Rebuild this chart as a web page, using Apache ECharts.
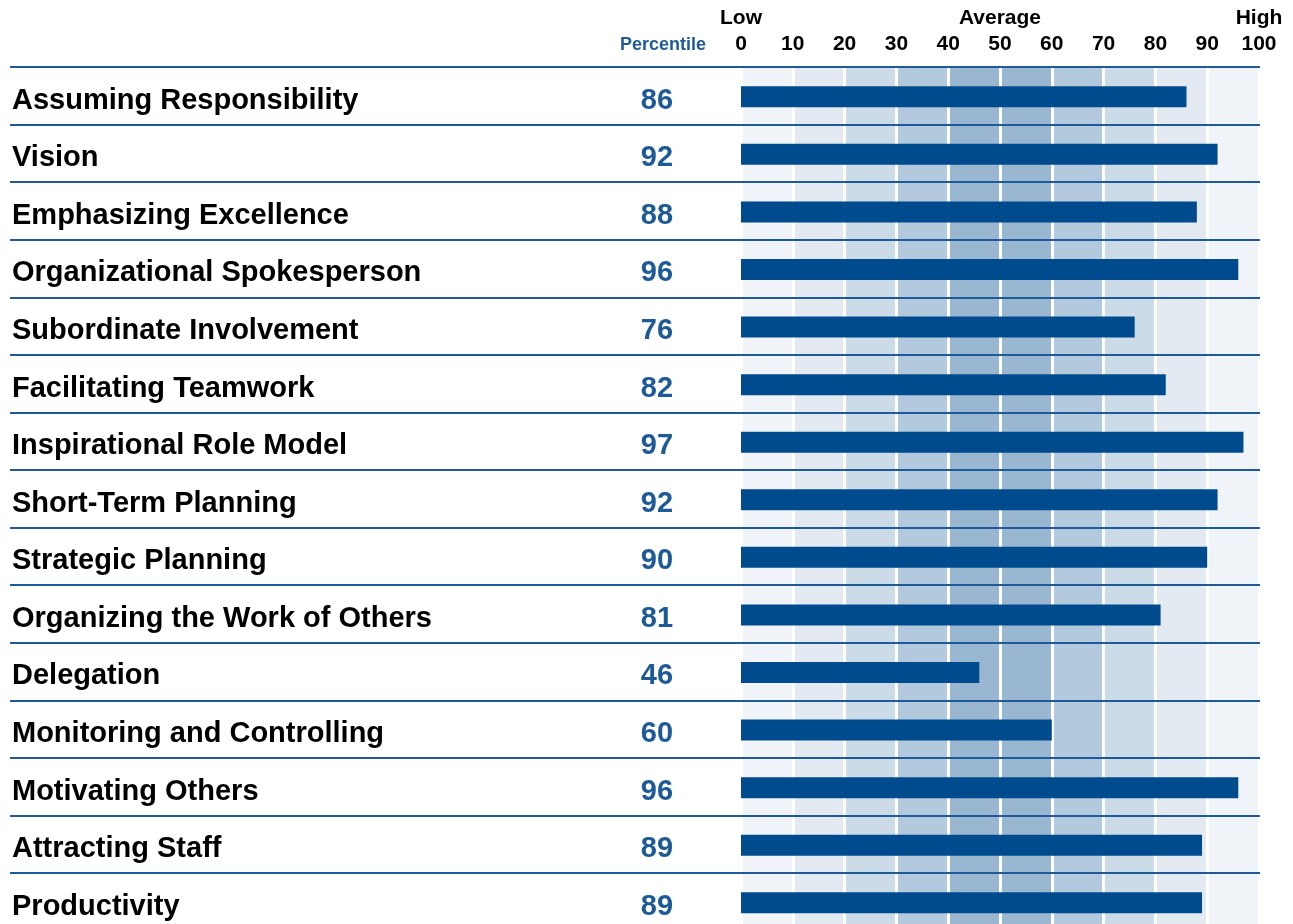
<!DOCTYPE html>
<html>
<head>
<meta charset="utf-8">
<script src="https://cdn.jsdelivr.net/npm/echarts@6/dist/echarts.min.js"></script>
<style>
html,body{margin:0;padding:0;background:#fff;}
#chart{width:1293px;height:924px;}
</style>
</head>
<body>
<div id="chart"></div>
<script>
var categories = ["Assuming Responsibility","Vision","Emphasizing Excellence","Organizational Spokesperson","Subordinate Involvement","Facilitating Teamwork","Inspirational Role Model","Short-Term Planning","Strategic Planning","Organizing the Work of Others","Delegation","Monitoring and Controlling","Motivating Others","Attracting Staff","Productivity"];
var percentiles = [86,92,88,96,76,82,97,92,90,81,46,60,96,89,89];
var scaleWords = {0:"Low",50:"Average",100:"High"};
var bandColors = ["#f0f4f8","#e3eaf2","#cbdbe7","#b3c9dd","#9ab7d1","#9ab7d1","#b3c9dd","#cbdbe7","#e3eaf2","#f0f4f8"];

var FONT = "Liberation Sans, Arial, sans-serif";
var chart = echarts.init(document.getElementById('chart'), null, {renderer:'canvas'});
var rowH = 57.57;
var gridTop = 67;
var gridH = rowH * categories.length;

chart.setOption({
  animation:false,
  backgroundColor:'#ffffff',
  title:{
    text:'Percentile', left:615, top:31,
    textStyle:{color:'#1d5a97', fontSize:18, fontWeight:'bold', fontFamily:FONT}
  },
  grid:[
    {left:741, width:518, top:gridTop, height:gridH, containLabel:false, outerBoundsMode:'none'},
    {left:10, width:1250, top:gridTop, height:gridH, containLabel:false, outerBoundsMode:'none'},
    {left:741, width:518, top:gridTop + 5, height:gridH, containLabel:false, outerBoundsMode:'none'},
    {left:741, width:518, top:gridTop + 1, height:gridH, containLabel:false, outerBoundsMode:'none'}
  ],
  xAxis:[
    {gridIndex:0, type:'value', position:'top', min:0, max:100, interval:10,
     axisLine:{show:false}, axisTick:{show:false},
     axisLabel:{show:true, margin:12, color:'#000', fontSize:21, fontWeight:'bold', fontFamily:FONT},
     splitLine:{show:true, lineStyle:{color:'#ffffff', width:3}},
     splitArea:{show:true, areaStyle:{color:bandColors}}
    },
    {gridIndex:0, type:'value', position:'top', offset:26, min:0, max:100, interval:10,
     axisLine:{show:false}, axisTick:{show:false}, splitLine:{show:false},
     axisLabel:{show:true, margin:12, color:'#000', fontSize:21, fontWeight:'bold', fontFamily:FONT,
       formatter:function(v){ return scaleWords[v] || ''; }}
    },
    {gridIndex:1, type:'value', show:false, min:0, max:100},
    {gridIndex:2, type:'value', show:false, min:0, max:100},
    {gridIndex:3, type:'value', show:false, min:0, max:100}
  ],
  yAxis:[
    {gridIndex:3, type:'category', data:categories, inverse:true, show:false},
    {gridIndex:2, type:'category', data:categories, inverse:true,
     axisLine:{show:false}, axisTick:{show:false}, splitLine:{show:false},
     axisLabel:{show:true, align:'left', margin:729, color:'#000', fontSize:29, fontWeight:'bold', fontFamily:FONT}
    },
    {gridIndex:2, type:'category', data:categories, inverse:true, position:'left',
     axisLine:{show:false}, axisTick:{show:false}, splitLine:{show:false},
     axisLabel:{show:true, align:'center', margin:84, color:'#1d5a97', fontSize:29, fontWeight:'bold', fontFamily:FONT,
       formatter:function(v, i){ return String(percentiles[i]); }}
    },
    {gridIndex:1, type:'category', data:categories, inverse:true, z:5,
     axisLine:{show:false}, axisTick:{show:false}, axisLabel:{show:false},
     splitLine:{show:true, showMinLine:true, showMaxLine:true, lineStyle:{color:'#1f5a98', width:2}}
    },
    {gridIndex:0, type:'category', data:categories, inverse:true, show:false}
  ],
  series:[
    {type:'bar', xAxisIndex:4, yAxisIndex:0, data:percentiles, barWidth:21,
     itemStyle:{color:'#004b8d'}, z:3}
  ]
});
</script>
</body>
</html>
